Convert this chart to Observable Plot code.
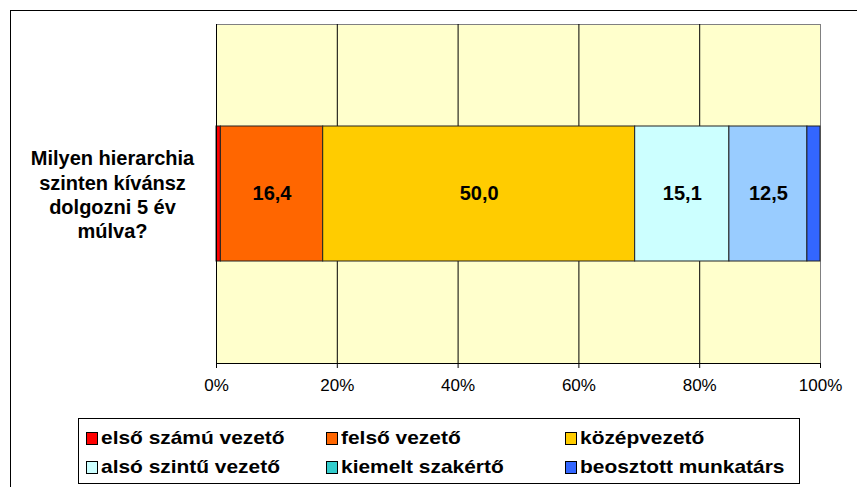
<!DOCTYPE html>
<html>
<head>
<meta charset="utf-8">
<script src="https://cdn.jsdelivr.net/npm/d3@7"></script>
<script src="https://cdn.jsdelivr.net/npm/@observablehq/plot@0.6"></script>
<style>
  html, body { margin: 0; padding: 0; background: #fff; overflow: hidden; }
  body { width: 857px; height: 487px; position: relative; font-family: "Liberation Sans", Arial, sans-serif; }
  #outer { position: absolute; left: 10px; top: 10px; width: 900px; height: 600px; border: 1.5px solid #000; box-sizing: border-box; }
  #chart { position: absolute; left: 0; top: 0; }
  #legend { position: absolute; left: 78px; top: 418px; width: 722px; height: 66px; border: 1px solid #000; box-sizing: border-box; background: #fff; }
  .item { position: absolute; height: 22px; display: flex; align-items: center; white-space: nowrap; }
  .sw { width: 12px; height: 13px; border: 1px solid #000; box-sizing: border-box; margin-right: 3px; flex: none; }
  .lbl { display: inline-block; font-weight: bold; font-size: 18.5px; transform: scaleX(1.13); transform-origin: left center; color: #000; }
</style>
</head>
<body>
<div id="outer"></div>
<div id="chart"></div>
<div id="legend"></div>
<script>
// ---- data ----
const question = "Milyen hierarchia szinten kívánsz dolgozni 5 év múlva?";
const questionLines = ["Milyen hierarchia", "szinten kívánsz", "dolgozni 5 év", "múlva?"];
const seriesNames = ["első számú vezető", "felső vezető", "középvezető", "alsó szintű vezető", "kiemelt szakértő", "beosztott munkatárs"];
const seriesValues = [0.7, 16.4, 50.0, 15.1, 12.5, 2.1];
const barColors = ["#FF0000", "#FF6600", "#FFCC00", "#CCFFFF", "#99CCFF", "#3366FF"];
const legendColors = ["#FF0000", "#FF6600", "#FFCC00", "#CCFFFF", "#33CCCC", "#3366FF"];
const xTicks = [0, 0.2, 0.4, 0.6, 0.8, 1];
const gridTicks = [0.2, 0.4, 0.6, 0.8];
const labelMin = 5;

const data = seriesNames.map((s, i) => ({q: question, series: s, value: seriesValues[i]}));
const fmt = v => v.toFixed(1).replace(".", ",");

const plot = Plot.plot({
  width: 857,
  height: 400,
  marginLeft: 216,
  marginRight: 37,
  marginTop: 24,
  marginBottom: 37,
  style: {fontFamily: "Liberation Sans, Arial, sans-serif", fontSize: "17px", color: "#000", background: "transparent"},
  x: {domain: [0, 1], axis: null},
  y: {domain: [question], padding: 0.4286, axis: null},
  color: {domain: seriesNames, range: barColors},
  marks: [
    Plot.frame({fill: "#FFFFCC", stroke: "#808080"}),
    Plot.gridX(gridTicks, {stroke: "#000", strokeOpacity: 1, strokeWidth: 1}),
    Plot.barX(data, Plot.stackX({x: "value", y: "q", fill: "series", offset: "normalize", order: null, stroke: "#222", strokeWidth: 1})),
    Plot.text(data, Plot.stackX({x: "value", y: "q", z: "series", offset: "normalize", order: null,
      text: d => d.value >= labelMin ? fmt(d.value) : "", fontSize: 20, fontWeight: "bold", fill: "#000"})),
    Plot.frame({anchor: "bottom", stroke: "#000"}),
    Plot.frame({anchor: "left", stroke: "#000"}),
    Plot.axisX(xTicks, {tickFormat: d3.format(".0%"), tickSize: 5, tickPadding: 10, stroke: "#000", fontSize: 17, label: null}),
    Plot.text([question], {y: d => d, frameAnchor: "left", dx: -104, textAnchor: "middle",
      text: () => questionLines.join("\n"), lineHeight: 1.22, fontSize: 20, fontWeight: "bold", fill: "#000"})
  ]
});
document.getElementById("chart").appendChild(plot);

// ---- legend ----
const legend = document.getElementById("legend");
const colX = [7, 247, 486];
const rowY = [8, 37];
seriesNames.forEach((s, i) => {
  const it = document.createElement("div");
  it.className = "item";
  it.style.left = colX[i % 3] + "px";
  it.style.top = rowY[Math.floor(i / 3)] + "px";
  const sw = document.createElement("span");
  sw.className = "sw";
  sw.style.background = legendColors[i];
  const lb = document.createElement("span");
  lb.className = "lbl";
  lb.textContent = s;
  it.appendChild(sw);
  it.appendChild(lb);
  legend.appendChild(it);
});
</script>
</body>
</html>
